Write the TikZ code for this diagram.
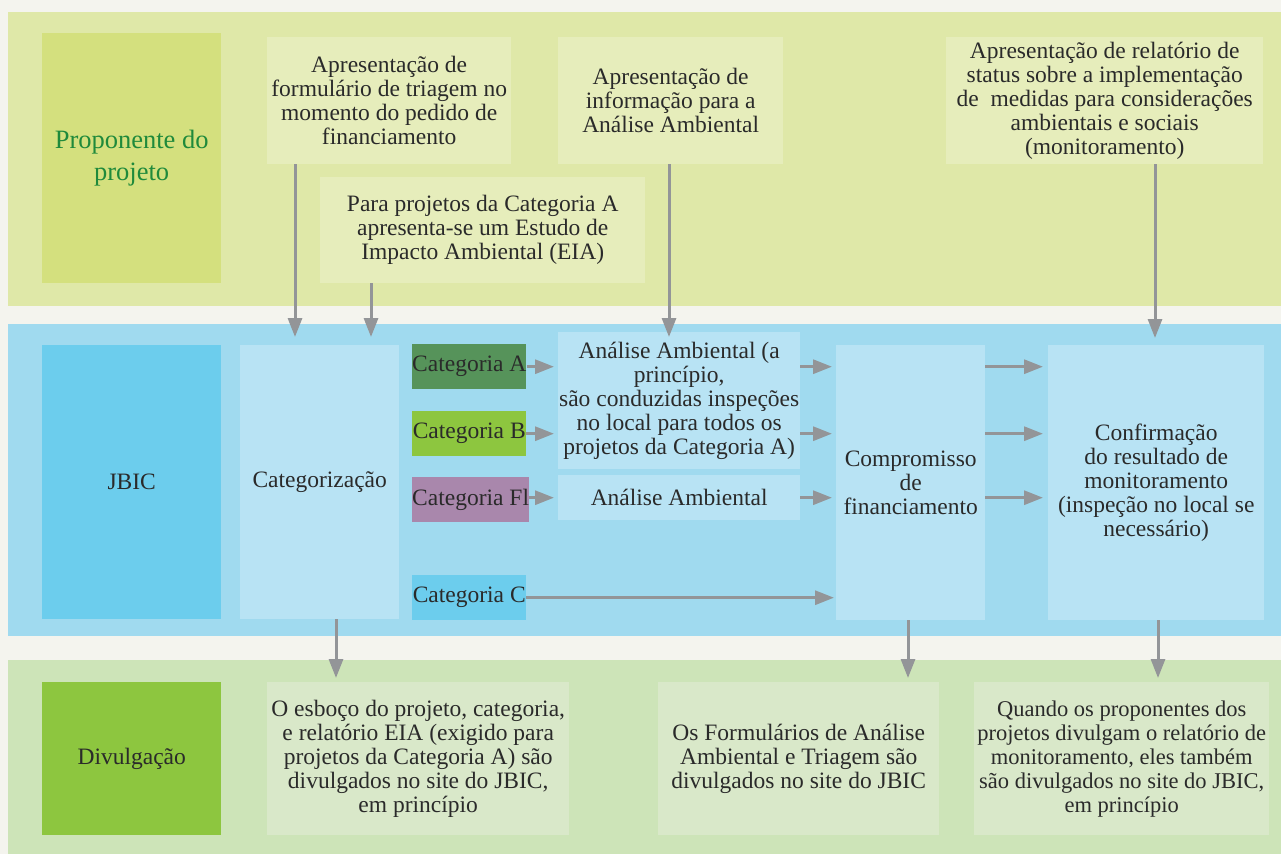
\documentclass[tikz,border=0pt]{standalone}
\usepackage{fontspec}
\setmainfont{Liberation Serif}
\usetikzlibrary{arrows.meta}
\definecolor{bgc}{HTML}{F4F4EE}
\definecolor{topband}{HTML}{DFE8A8}
\definecolor{propc}{HTML}{D4E07E}
\definecolor{topbox}{HTML}{E6EDBB}
\definecolor{midband}{HTML}{A0DAEF}
\definecolor{jbicc}{HTML}{6CCDED}
\definecolor{lblue}{HTML}{B8E3F4}
\definecolor{catac}{HTML}{56935A}
\definecolor{catbc}{HTML}{8DC63F}
\definecolor{catfc}{HTML}{A987AC}
\definecolor{botband}{HTML}{CDE4B8}
\definecolor{botbox}{HTML}{D9E8C9}
\definecolor{propt}{HTML}{1F8A3B}
\definecolor{arrc}{HTML}{939598}
\definecolor{txtc}{HTML}{2A2A2A}
\tikzset{
  box/.style={anchor=north west, inner sep=0pt, align=center, text=txtc,
    font=\fontsize{23.5}{24}\selectfont},
  band/.style={anchor=north west, inner sep=0pt},
  arr/.style={draw=arrc, line width=3pt, -{Triangle[length=19pt,width=14pt]}},
}
\begin{document}
\begin{tikzpicture}[x=1pt,y=-1pt]
\fill[bgc] (0,0) rectangle (1281,854);
\useasboundingbox (0,0) rectangle (1281,854);
% bands
\node[band, fill=topband, minimum width=1273pt, minimum height=294pt] (topb) at (8,12) {};
\node[band, fill=midband, minimum width=1273pt, minimum height=312pt] (midb) at (8,324) {};
\node[band, fill=botband, minimum width=1273pt, minimum height=194pt] (botb) at (8,660) {};
% top row
\node[box, fill=propc, minimum width=179pt, minimum height=250pt, text=propt,
  font=\fontsize{26.5}{32}\selectfont] (prop) at (42,33) {Proponente do\\projeto};
\node[box, fill=topbox, minimum width=244pt, minimum height=127pt] (form) at (267,37)
  {Apresentação de\\formulário de triagem no\\momento do pedido de\\financiamento};
\node[box, fill=topbox, minimum width=225pt, minimum height=127pt] (info) at (558,37)
  {Apresentação de\\informação para a\\Análise Ambiental};
\node[box, fill=topbox, minimum width=317pt, minimum height=127pt] (mon) at (946,37)
  {Apresentação de relatório de\\status sobre a implementação\\de\ \ medidas para considerações\\ambientais e sociais\\(monitoramento)};
\node[box, fill=topbox, minimum width=325pt, minimum height=106pt] (eia) at (320,177)
  {Para projetos da Categoria A\\apresenta-se um Estudo de\\Impacto Ambiental (EIA)};
% middle row
\node[box, fill=jbicc, minimum width=179pt, minimum height=274pt] (jbic) at (42,345) {JBIC};
\node[box, fill=lblue, minimum width=159pt, minimum height=274pt] (cat) at (240,345) {Categorização};
\node[box, fill=catac, minimum width=114pt, minimum height=45pt] (ca) at (412,344) {Categoria A};
\node[box, fill=catbc, minimum width=114pt, minimum height=45pt] (cb) at (412,411) {Categoria B};
\node[box, fill=catfc, minimum width=114pt, minimum height=45pt] (cf) at (412,477) {Categoria Fl};
\node[box, fill=jbicc, minimum width=114pt, minimum height=45pt] (cc) at (412,575) {Categoria C};
\node[box, fill=lblue, minimum width=242pt, minimum height=137pt] (an1) at (558,332)
  {Análise Ambiental (a\\princípio,\\são conduzidas inspeções\\no local para todos os\\projetos da Categoria A)};
\node[box, fill=lblue, minimum width=242pt, minimum height=45pt] (an2) at (558,475) {Análise Ambiental};
\node[box, fill=lblue, minimum width=149pt, minimum height=275pt] (comp) at (836,345)
  {Compromisso\\de\\financiamento};
\node[box, fill=lblue, minimum width=216pt, minimum height=275pt] (conf) at (1048,345)
  {Confirmação\\do resultado de\\monitoramento\\(inspeção no local se\\necessário)};
% bottom row
\node[box, fill=catbc, minimum width=179pt, minimum height=153pt] (div) at (42,682) {Divulgação};
\node[box, fill=botbox, minimum width=302pt, minimum height=153pt] (esb) at (267,682)
  {O esboço do projeto, categoria,\\e relatório EIA (exigido para\\projetos da Categoria A) são\\divulgados no site do JBIC,\\em princípio};
\node[box, fill=botbox, minimum width=281pt, minimum height=153pt] (fmr) at (658,682)
  {Os Formulários de Análise\\Ambiental e Triagem são\\divulgados no site do JBIC};
\node[box, fill=botbox, minimum width=295pt, minimum height=153pt,
  font=\fontsize{22.5}{24}\selectfont] (qd) at (974,682)
  {Quando os proponentes dos\\projetos divulgam o relatório de\\monitoramento, eles também\\são divulgados no site do JBIC,\\em princípio};
% arrow x positions
\coordinate (x1) at (295,0);
\coordinate (x2) at (371,0);
\coordinate (x3) at (669,0);
\coordinate (x4) at (1155,0);
\coordinate (x5) at (336,0);
\coordinate (x6) at (908,0);
\coordinate (x7) at (1158,0);
% top arrows
\draw[arr, shorten >=8pt] (x1 |- form.south) -- (x1 |- cat.north);
\draw[arr, shorten >=8pt] (x2 |- eia.south) -- (x2 |- cat.north);
\draw[arr, shorten >=-5pt] (x3 |- info.south) -- (x3 |- an1.north);
\draw[arr, shorten >=7pt] (x4 |- mon.south) -- (x4 |- conf.north);
% category arrows
\draw[arr, shorten >=4pt] (ca.east) -- (ca.east -| an1.west);
\draw[arr, shorten >=4pt] (cb.east) -- (cb.east -| an1.west);
\draw[arr, shorten >=4pt] (cf.east |- an2.west) -- (an2.west);
\draw[arr, shorten >=2pt] (cc.east) -- (cc.east -| comp.west);
\draw[arr, shorten >=4pt] (ca.east -| an1.east) -- (ca.east -| comp.west);
\draw[arr, shorten >=4pt] (cb.east -| an1.east) -- (cb.east -| comp.west);
\draw[arr, shorten >=4pt] (an2.east) -- (an2.east -| comp.west);
\draw[arr, shorten >=5pt] (ca.east -| comp.east) -- (ca.east -| conf.west);
\draw[arr, shorten >=5pt] (cb.east -| comp.east) -- (cb.east -| conf.west);
\draw[arr, shorten >=5pt] (an2.east -| comp.east) -- (an2.east -| conf.west);
% bottom arrows
\draw[arr, shorten >=4pt] (x5 |- cat.south) -- (x5 |- esb.north);
\draw[arr, shorten >=4pt] (x6 |- comp.south) -- (x6 |- fmr.north);
\draw[arr, shorten >=4pt] (x7 |- conf.south) -- (x7 |- qd.north);
\end{tikzpicture}
\end{document}
